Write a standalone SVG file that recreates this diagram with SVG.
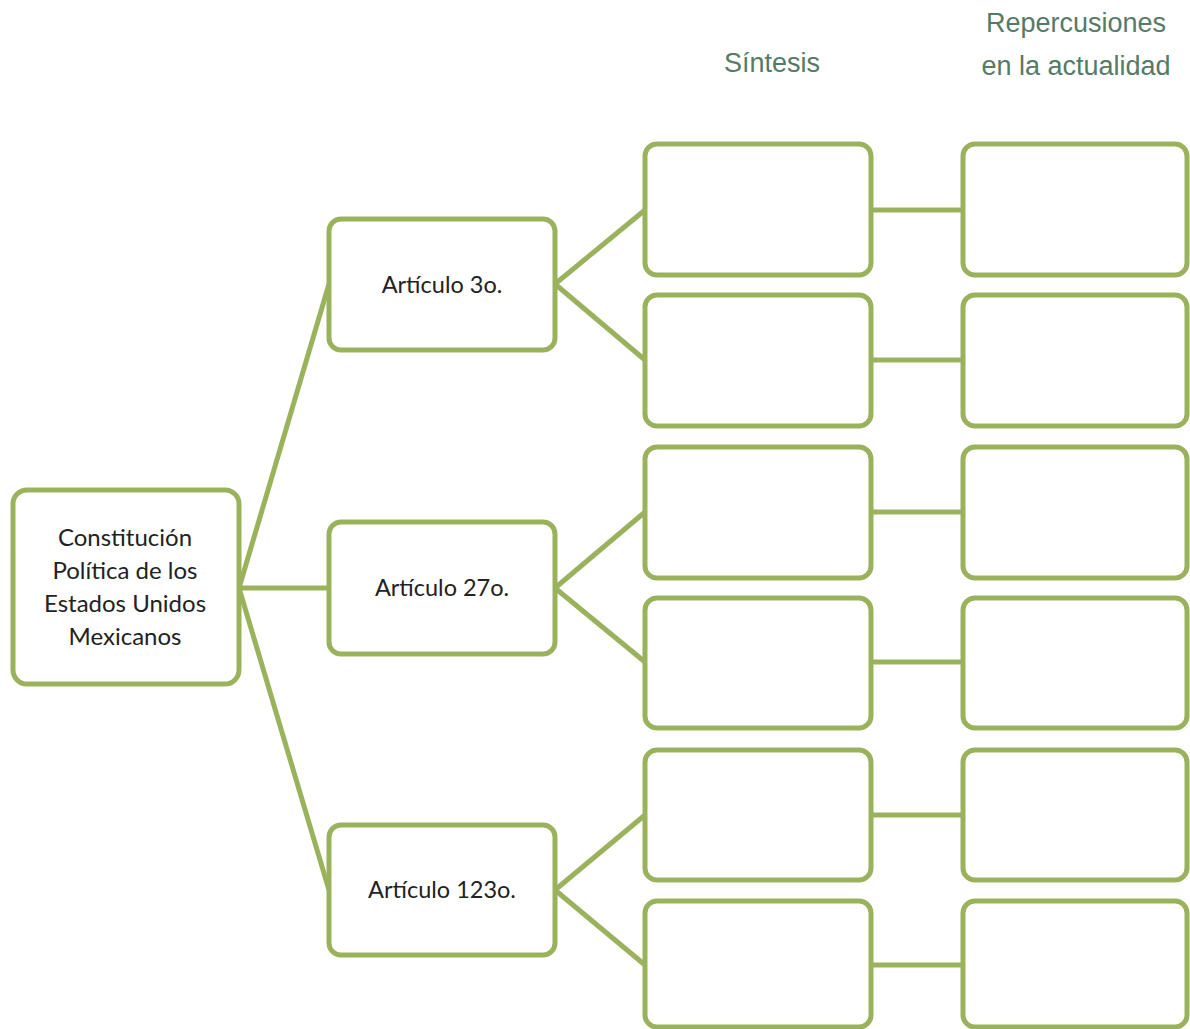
<svg xmlns="http://www.w3.org/2000/svg" width="1190" height="1029" viewBox="0 0 1190 1029">
<style>
.box{fill:#fff;stroke:#9bb25c;stroke-width:5}
.con{stroke:#9bb25c;stroke-width:5;fill:none}
.lbl{font-family:Lato,"Open Sans",sans-serif;font-size:23.5px;fill:#222;text-anchor:middle}
.root{font-size:24px}
.hdr{font-family:"Liberation Sans",Arial,sans-serif;font-size:27px;fill:#557a66;text-anchor:middle}
</style>
<rect width="1190" height="1029" fill="#fff"/>
<g id="headers">
<text class="hdr" x="772" y="72">Síntesis</text>
<text class="hdr" x="1076" y="32">Repercusiones</text>
<text class="hdr" x="1076" y="75">en la actualidad</text>
</g>
<g id="connectors">
<path class="con" d="M239 588 L329 284 M239 588 L329 588 M239 588 L329 890"/>
<path class="con" d="M555 284 L645 210 M555 284 L645 360"/>
<path class="con" d="M555 588 L645 512 M555 588 L645 662"/>
<path class="con" d="M555 890 L645 815 M555 890 L645 965"/>
<path class="con" d="M871 210 H963 M871 360 H963 M871 512 H963 M871 662 H963 M871 815 H963 M871 965 H963"/>
</g>
<g id="root"><rect class="box" x="13" y="490" width="226" height="194" rx="14"/>
<text class="lbl root" x="125" y="546">Constitución</text>
<text class="lbl root" x="125" y="579">Política de los</text>
<text class="lbl root" x="125" y="612">Estados Unidos</text>
<text class="lbl root" x="125" y="645">Mexicanos</text></g>
<g id="art3"><rect class="box" x="329" y="219" width="226" height="131" rx="12"/><text class="lbl" x="442" y="293">Artículo 3o.</text></g>
<g id="art27"><rect class="box" x="329" y="522" width="226" height="132" rx="12"/><text class="lbl" x="442" y="596">Artículo 27o.</text></g>
<g id="art123"><rect class="box" x="329" y="825" width="226" height="130" rx="12"/><text class="lbl" x="442" y="898">Artículo 123o.</text></g>
<g id="s1"><rect class="box" x="645" y="144" width="226" height="131" rx="12"/></g>
<g id="s2"><rect class="box" x="645" y="295" width="226" height="131" rx="12"/></g>
<g id="s3"><rect class="box" x="645" y="447" width="226" height="131" rx="12"/></g>
<g id="s4"><rect class="box" x="645" y="598" width="226" height="130" rx="12"/></g>
<g id="s5"><rect class="box" x="645" y="750" width="226" height="130" rx="12"/></g>
<g id="s6"><rect class="box" x="645" y="901" width="226" height="126" rx="12"/></g>
<g id="r1"><rect class="box" x="963" y="144" width="224" height="131" rx="12"/></g>
<g id="r2"><rect class="box" x="963" y="295" width="224" height="131" rx="12"/></g>
<g id="r3"><rect class="box" x="963" y="447" width="224" height="131" rx="12"/></g>
<g id="r4"><rect class="box" x="963" y="598" width="224" height="130" rx="12"/></g>
<g id="r5"><rect class="box" x="963" y="750" width="224" height="130" rx="12"/></g>
<g id="r6"><rect class="box" x="963" y="901" width="224" height="126" rx="12"/></g>
</svg>
